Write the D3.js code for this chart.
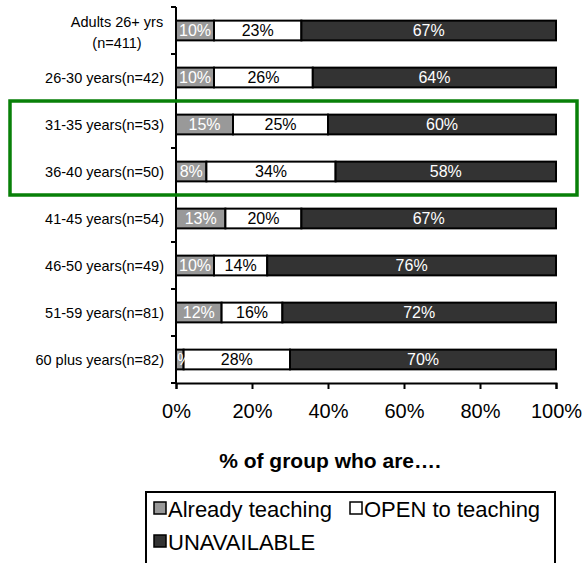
<!DOCTYPE html>
<html><head><meta charset="utf-8">
<script src="https://cdn.jsdelivr.net/npm/d3@7"></script>
<style>body{margin:0;background:#fff}svg{display:block;font-family:Arial,"Liberation Sans",sans-serif}</style>
</head><body><svg id="c" width="582" height="563"></svg>
<script>
const categories = ["Adults 26+ yrs\n(n=411)","26-30 years(n=42)","31-35 years(n=53)","36-40 years(n=50)","41-45 years(n=54)","46-50 years(n=49)","51-59 years(n=81)","60 plus years(n=82)"];
const seriesNames = ["Already teaching","OPEN to teaching","UNAVAILABLE"];
const alreadyTeaching = [10,10,15,8,13,10,12,2];
const openToTeaching = [23,26,25,34,20,14,16,28];
const unavailable = [67,64,60,58,67,76,72,70];
const xTicks = [0,20,40,60,80,100];
const colors = ["#999999","#ffffff","#333333"];
const labelColors = ["#ffffff","#000000","#ffffff"];
const highlighted = ["31-35 years(n=53)","36-40 years(n=50)"];

const svg = d3.select("#c");
const x = d3.scaleLinear().domain([0,100]).range([176,556]);
const y = d3.scaleBand().domain(categories).range([7,383]).paddingInner(0.58).paddingOuter(0.29);
const step = y.step();

const rows = categories.map((c,i)=>({cat:c, vals:[alreadyTeaching[i],openToTeaching[i],unavailable[i]]}));
const stack = d3.stack().keys([0,1,2]).value((d,k)=>d.vals[k]);
const layers = stack(rows);

layers.forEach((layer,k)=>{
  const g = svg.append("g");
  g.selectAll("rect").data(layer).join("rect")
    .attr("x", d=>x(d[0])).attr("width", d=>x(d[1])-x(d[0]))
    .attr("y", d=>y(d.data.cat)).attr("height", y.bandwidth())
    .attr("fill", colors[k]).attr("stroke","#000").attr("stroke-width",2);
});
layers.forEach((layer,k)=>{
  svg.append("g").selectAll("text").data(layer).join("text")
    .attr("x", d=>(x(d[0])+x(d[1]))/2).attr("y", d=>y(d.data.cat)+y.bandwidth()/2)
    .attr("dy","0.36em").attr("text-anchor","middle").attr("font-size",16)
    .attr("fill", labelColors[k]).text(d=>d.data.vals[k]+"%");
});

// y axis
const yBounds = d3.range(categories.length+1).map(i=>7+i*step);
svg.append("line").attr("x1",176).attr("x2",176).attr("y1",7).attr("y2",383).attr("stroke","#000").attr("stroke-width",2);
svg.selectAll(".yt").data(yBounds).join("line").attr("x1",171).attr("x2",176).attr("y1",d=>d).attr("y2",d=>d).attr("stroke","#000").attr("stroke-width",2);
categories.forEach(c=>{
  const cy = y(c)+y.bandwidth()/2;
  const parts = c.split("\n");
  if(parts.length>1){
    parts.forEach((p,j)=>svg.append("text").attr("x",117).attr("y",y(c)-step*0.29+15+j*21).attr("dy","0.36em").attr("text-anchor","middle").attr("font-size",14.5).attr("fill","#000").text(p));
  } else {
    svg.append("text").attr("x",164).attr("y",cy).attr("dy","0.36em").attr("text-anchor","end").attr("font-size",14.5).attr("fill","#000").text(c);
  }
});

// x axis
const xa = svg.append("g").attr("transform","translate(0,383)")
  .call(d3.axisBottom(x).tickValues(xTicks).tickFormat(d=>d+"%").tickSize(6).tickPadding(15));
xa.select(".domain").attr("stroke","#000").attr("stroke-width",2);
xa.selectAll(".tick line").attr("stroke","#000").attr("stroke-width",2);
xa.selectAll(".tick text").attr("font-size",20).attr("font-family","Arial,'Liberation Sans',sans-serif").attr("fill","#000");

svg.append("text").attr("x",330).attr("y",460).attr("dy","0.36em").attr("text-anchor","middle")
  .attr("font-size",21).attr("font-weight","bold").attr("fill","#000").text("% of group who are….");

// highlight box
svg.append("rect").attr("x",10).attr("y",y(highlighted[0])-step*0.29)
  .attr("width",567)
  .attr("height", (y(highlighted[1])+y.bandwidth()+step*0.29) - (y(highlighted[0])-step*0.29))
  .attr("fill","none").attr("stroke","#088008").attr("stroke-width",3.5);

// legend
svg.append("rect").attr("x",146).attr("y",492).attr("width",409).attr("height",90).attr("fill","#fff").attr("stroke","#000").attr("stroke-width",2);
const legPos = [[154,502],[350,502],[154,535]];
seriesNames.forEach((s,k)=>{
  svg.append("rect").attr("x",legPos[k][0]).attr("y",legPos[k][1]).attr("width",12).attr("height",12).attr("fill",colors[k]).attr("stroke","#000").attr("stroke-width",1.5);
  svg.append("text").attr("x",legPos[k][0]+14).attr("y",legPos[k][1]+7).attr("dy","0.36em").attr("font-size",22).attr("fill","#000").text(s);
});
</script></body></html>
